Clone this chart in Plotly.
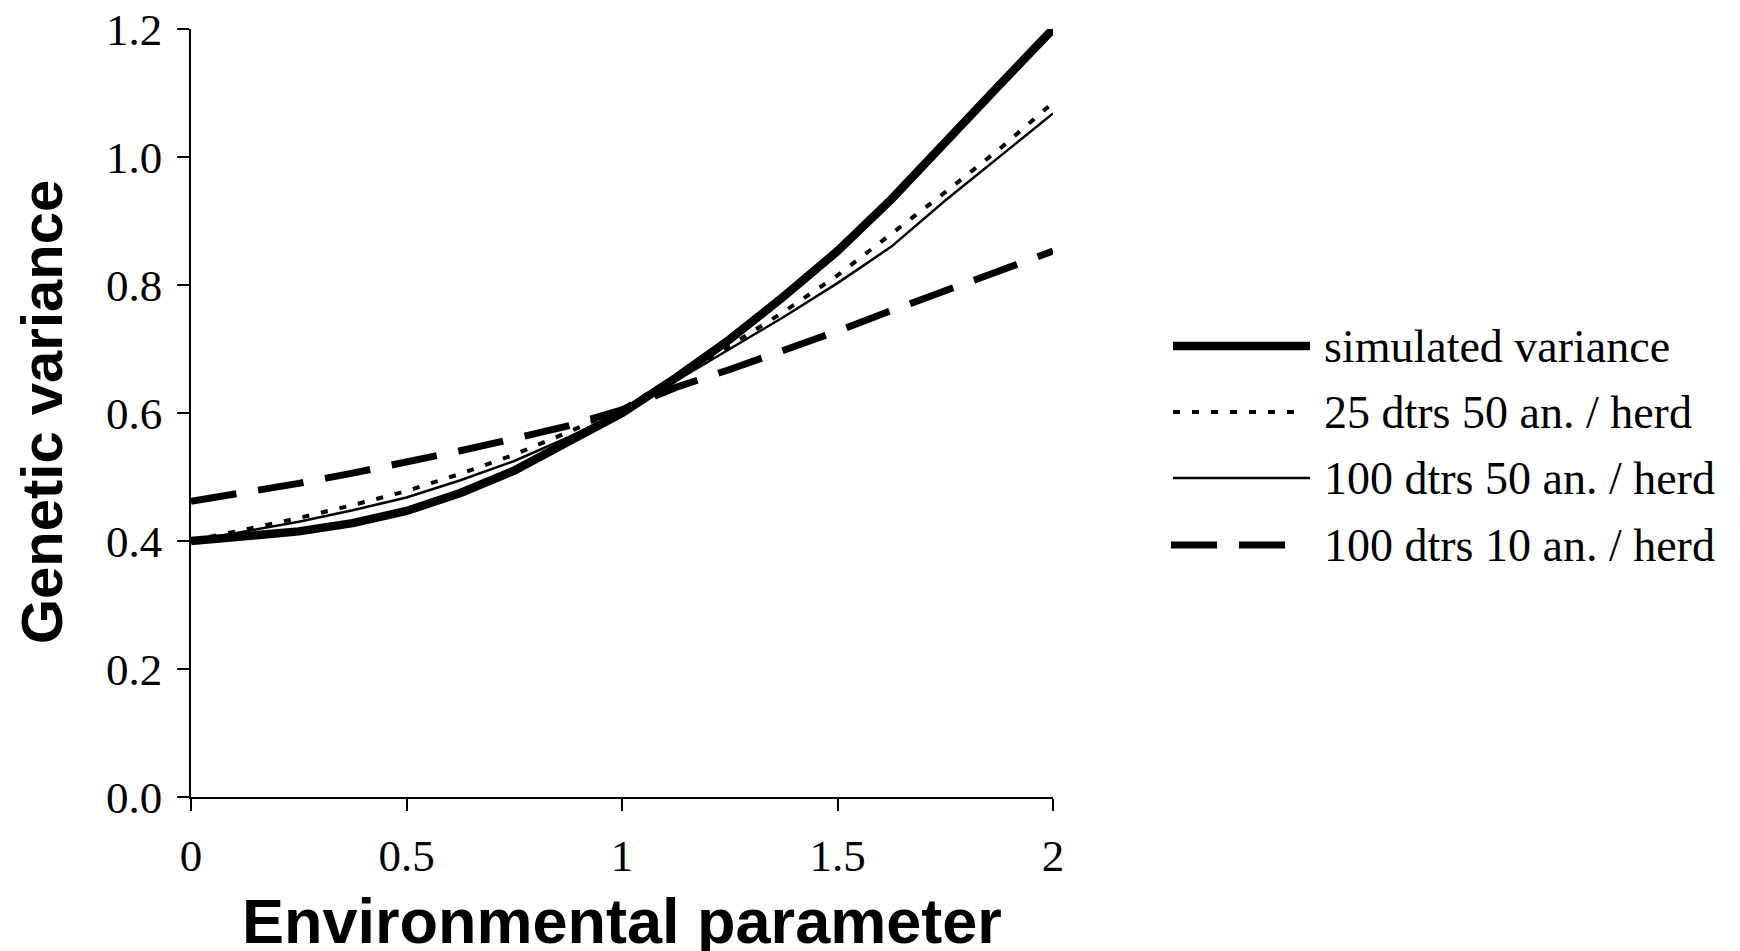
import plotly.graph_objects as go

# ---------------- data ----------------
x_env = [0, 0.125, 0.25, 0.375, 0.5, 0.625, 0.75, 0.875, 1.0,
         1.125, 1.25, 1.375, 1.5, 1.625, 1.75, 1.875, 2.0]

simulated_variance = [0.400, 0.407, 0.415, 0.428, 0.447, 0.475, 0.510, 0.555, 0.600,
                      0.655, 0.715, 0.782, 0.853, 0.934, 1.025, 1.112, 1.200]
dtrs25_an50 = [0.400, 0.418, 0.436, 0.456, 0.478, 0.505, 0.535, 0.570, 0.607,
               0.655, 0.705, 0.758, 0.815, 0.880, 0.945, 1.012, 1.085]
dtrs100_an50 = [0.400, 0.415, 0.430, 0.448, 0.468, 0.495, 0.525, 0.562, 0.603,
                0.650, 0.700, 0.750, 0.803, 0.860, 0.932, 1.000, 1.068]
dtrs100_an10 = [0.462, 0.475, 0.490, 0.506, 0.523, 0.541, 0.560, 0.580, 0.605,
                0.640, 0.668, 0.697, 0.728, 0.760, 0.792, 0.822, 0.853]

series_names = ["simulated variance", "25 dtrs 50 an. / herd",
                "100 dtrs 50 an. / herd", "100 dtrs 10 an. / herd"]
x_ticks = [0, 0.5, 1, 1.5, 2]
y_ticks = [0.0, 0.2, 0.4, 0.6, 0.8, 1.0, 1.2]

x_title = "Environmental parameter"
y_title = "Genetic variance"

# ---------------- layout geometry (page pixels) ----------------
W, H = 1740, 951
OFF = 8  # default page body margin
L, R, T, B = 191 - OFF, 1053 - OFF, 29 - OFF, 797 - OFF

def px(xpage):
    return (xpage - OFF - L) / (R - L)

def py(ypage):
    return (B - (ypage - OFF)) / (B - T)

SERIF = "Liberation Serif, Times New Roman, serif"
SANS = "Liberation Sans, Arial, sans-serif"

styles = [
    dict(width=8.5, dash="solid"),
    dict(width=4, dash="7px,12px"),
    dict(width=2.5, dash="solid"),
    dict(width=7, dash="46px,22px"),
]
all_series = [simulated_variance, dtrs25_an50, dtrs100_an50, dtrs100_an10]

fig = go.Figure()
for name, ys, st in zip(series_names, all_series, styles):
    fig.add_trace(go.Scatter(x=x_env, y=ys, mode="lines", name=name,
                             line=dict(color="black", **st),
                             showlegend=False, hoverinfo="x+y+name",
                             cliponaxis=False))

# ---------------- manual legend ----------------
legend_rows = [346, 412, 478, 545]
legend_x0 = [1173, 1173, 1173, 1171]
legend_x1 = [1310, 1297, 1310, 1287]
shapes = []
annotations = []
for i, (name, st) in enumerate(zip(series_names, styles)):
    yr = py(legend_rows[i])
    shapes.append(dict(type="line", xref="paper", yref="paper",
                       x0=px(legend_x0[i]), x1=px(legend_x1[i]), y0=yr, y1=yr,
                       line=dict(color="black", width=st["width"], dash=st["dash"])))
    annotations.append(dict(text=name, xref="paper", yref="paper",
                            x=px(1322), y=yr, xanchor="left", yanchor="middle",
                            showarrow=False,
                            font=dict(family=SERIF, size=46, color="black")))

# axis titles
annotations.append(dict(text=f"<b>{x_title}</b>", xref="paper", yref="paper",
                        x=px(622), y=py(921), xanchor="center", yanchor="middle",
                        showarrow=False,
                        font=dict(family=SANS, size=63, color="black")))
annotations.append(dict(text=f"<b>{y_title}</b>", xref="paper", yref="paper",
                        x=px(41), y=py(412), xanchor="center", yanchor="middle",
                        textangle=-90, showarrow=False,
                        font=dict(family=SANS, size=58, color="black")))

axis_common = dict(showgrid=False, zeroline=False, showline=True,
                   linecolor="black", linewidth=1.5, ticks="outside",
                   ticklen=12, tickwidth=1.5, tickcolor="black",
                   ticklabeloverflow="allow", automargin=False,
                   tickfont=dict(family=SERIF, size=45, color="black"))

fig.update_layout(
    width=W, height=H,
    margin=dict(l=L, r=W - R, t=T, b=H - B, pad=0, autoexpand=False),
    plot_bgcolor="white", paper_bgcolor="white",
    showlegend=False,
    xaxis=dict(range=[0, 2], tickvals=x_ticks, ticktext=[f"{v:g}" for v in x_ticks],
               ticklabelstandoff=6, **axis_common),
    yaxis=dict(range=[0, 1.2], tickvals=y_ticks, tickformat=".1f",
               ticklabelstandoff=6, **axis_common),
    shapes=shapes,
    annotations=annotations,
)

fig.write_html("out.html")
